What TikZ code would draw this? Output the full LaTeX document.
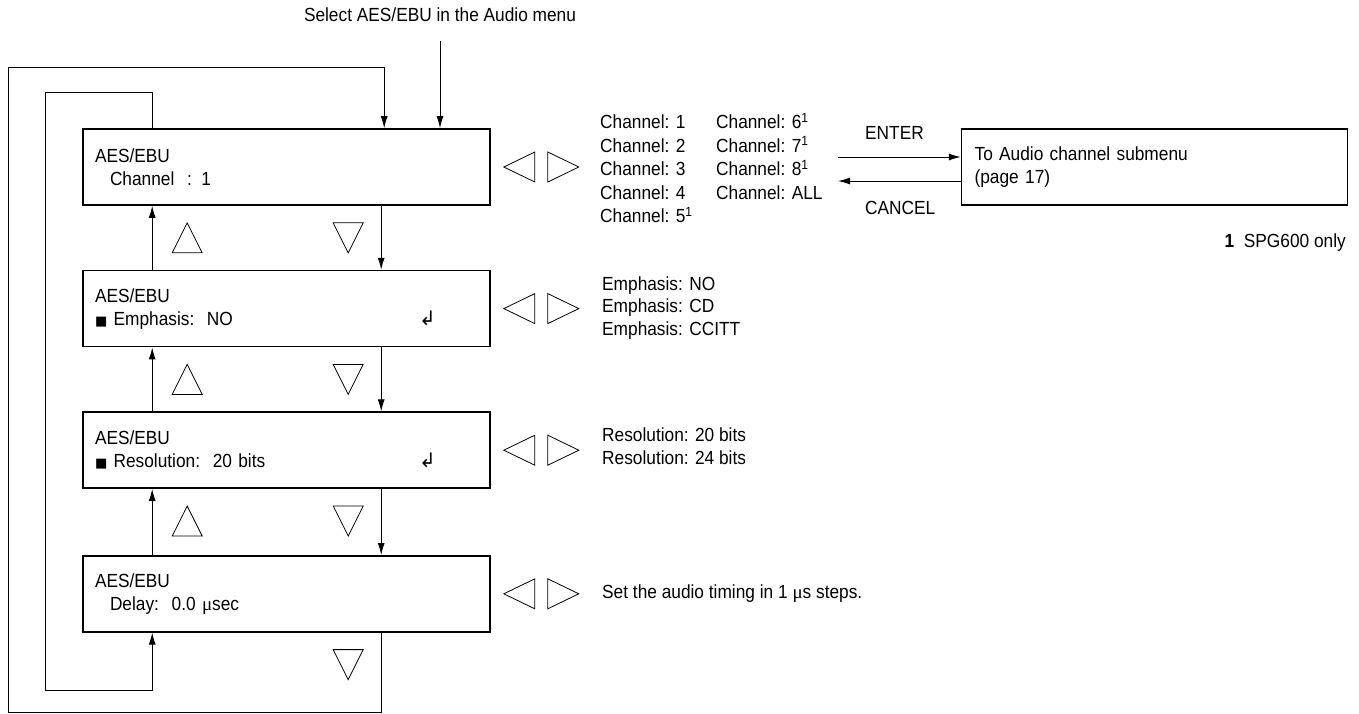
\documentclass[tikz,border=0pt]{standalone}
\usepackage{fontspec}
\setmainfont[FakeStretch=0.91]{Liberation Sans}
\newfontfamily\symfont{DejaVu Sans}
\newfontfamily\mufont{Liberation Serif}
\usetikzlibrary{
  arrows.meta,
  positioning
}
\newcommand{\menufont}{\fontsize{19}{23}\selectfont}
\newcommand{\selmark}{{\symfont\fontsize{13}{13}\selectfont ■}\ }
\newcommand{\enterkey}{{\symfont\fontsize{20}{20}\selectfont ↲}\kern42pt}
\newcommand{\usec}{{\mufont μ}}
\tikzset{
  menubox/.style={
    draw,
    line width=1.6pt,
    minimum width=407pt,
    minimum height=76pt,
    text width=383pt,
    inner xsep=12pt,
    align=left,
    font=\menufont
  },
  txt/.style={inner sep=0pt,font=\menufont},
  listtxt/.style={inner sep=0pt,font=\fontsize{19}{23.5}\selectfont},
  flowline/.style={-{Latex[length=12pt,width=7pt]},line width=1pt},
  keytri/.style={line width=0.8pt}
}

\begin{document}
\begin{tikzpicture}[x=1pt,y=-1pt,node distance=64pt]
  \useasboundingbox (0,0) rectangle (1359,713);

  \node[menubox] (m1) at (286.5,167) {AES/EBU\\\hspace*{15pt}Channel\ \ : 1};
  \node[menubox,below=of m1] (m2) {AES/EBU\\\selmark Emphasis:\ \ NO\hfill\enterkey};
  \node[menubox,below=of m2] (m3) {AES/EBU\\\selmark Resolution:\ \ 20 bits\hfill\enterkey};
  \node[menubox,below=66pt of m3] (m4) {AES/EBU\\\hspace*{15pt}Delay:\ \ 0.0 \usec sec};

  \node[menubox,minimum width=386pt,text width=360pt,inner xsep=13pt,right=470pt of m1] (sub) {
    To Audio channel submenu\\(page 17)
  };

  \node[txt] (sel) at (440,15) {Select AES/EBU in the Audio menu};
  \coordinate (entry) at (440,41);
  \draw[flowline] (entry) -- (entry |- m1.north);

  \node[listtxt,anchor=west] (chans) at (600,171) {%
    \begin{tabular}{@{}p{116pt}@{}l@{}}
      Channel: 1 & Channel: 6\textsuperscript{1}\\
      Channel: 2 & Channel: 7\textsuperscript{1}\\
      Channel: 3 & Channel: 8\textsuperscript{1}\\
      Channel: 4 & Channel: ALL\\
      Channel: 5\textsuperscript{1} &
    \end{tabular}};
  \node[listtxt,font=\fontsize{19}{22.5}\selectfont,anchor=west] (emph) at (602,308) {%
    \begin{tabular}{@{}l@{}}
      Emphasis: NO\\
      Emphasis: CD\\
      Emphasis: CCITT
    \end{tabular}};
  \node[listtxt,font=\fontsize{19}{23}\selectfont,anchor=west] (res) at (602,448) {%
    \begin{tabular}{@{}l@{}}
      Resolution: 20 bits\\
      Resolution: 24 bits
    \end{tabular}};
  \node[txt,anchor=west] (delaytxt) at (602,594) {Set the audio timing in 1 \usec s steps.};

  \coordinate (enter) at (838,157);
  \coordinate (cancel) at (838,181);
  \draw[flowline] (enter) -- (enter -| sub.west);
  \draw[flowline] (cancel -| sub.west) -- (cancel);
  \node[txt,anchor=west] (enterlbl) at (865,133) {ENTER};
  \node[txt,anchor=west] (cancellbl) at (865,208) {CANCEL};
  \node[txt,anchor=east] (note) at (1346,243) {\textbf{1}\ \ SPG600 only};

  \foreach \a/\b in {m1/m2,m2/m3,m3/m4}{
    \draw[flowline] ([xshift=299pt]\a.south west) -- ([xshift=299pt]\b.north west);
    \draw[flowline] ([xshift=70pt]\b.north west) -- ([xshift=70pt]\a.south west);
    \draw[keytri] ([xshift=105pt,yshift=-17pt]\a.south west) -- ++(15,30) -- ++(-30,0) -- cycle;
  }
  \foreach \n in {m1,m2,m3,m4}{
    \draw[keytri] ([xshift=251pt,yshift=-17pt]\n.south west) -- ++(30,0) -- ++(-15,30) -- cycle;
    \draw[keytri] ([xshift=13pt]\n.east) -- ++(31,-15) -- ++(0,30) -- cycle;
    \draw[keytri] ([xshift=88pt]\n.east) -- ++(-31,-15) -- ++(0,30) -- cycle;
  }

  \coordinate (outerbl) at (8,712);
  \coordinate (outertl) at (8,67);
  \coordinate (innertl) at (45,92);
  \coordinate (innerbl) at (45,690);
  \draw[flowline] ([xshift=299pt]m4.south west) |- (outerbl) -- (outertl) -| ([xshift=302pt]m1.north west);
  \draw[flowline] ([xshift=70pt]m1.north west) |- (innertl) -- (innerbl) -| ([xshift=70pt]m4.south west);
\end{tikzpicture}
\end{document}
